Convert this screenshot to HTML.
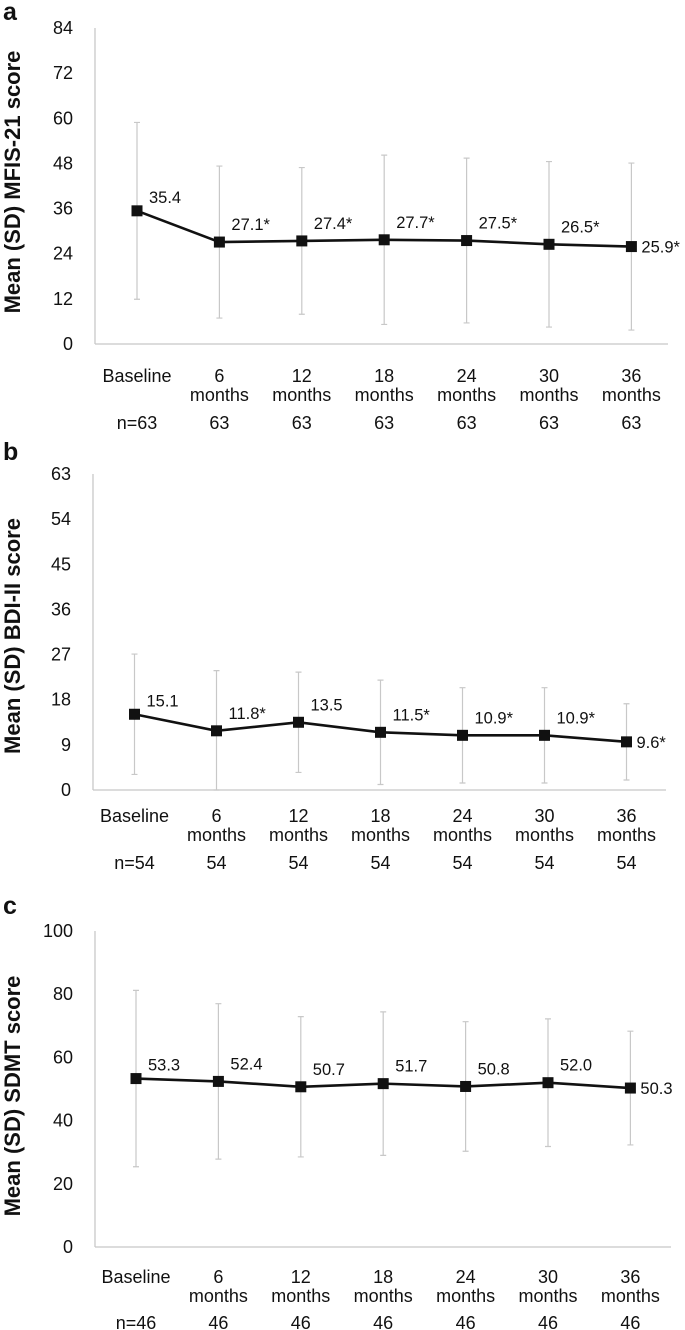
<!DOCTYPE html>
<html><head><meta charset="utf-8"><style>
html,body{margin:0;padding:0;background:#fff;}
svg{display:block;font-family:"Liberation Sans Narrow","Liberation Sans",sans-serif;}
.t{font-size:18px;fill:#111;}
.v{font-size:16.5px;fill:#111;}
.ttl{font-family:"Liberation Sans",sans-serif;font-weight:bold;font-size:22px;fill:#111;}
.pl{font-family:"Liberation Sans",sans-serif;font-weight:bold;font-size:25px;fill:#111;}
</style></head><body>
<svg id="fig" width="685" height="1330" viewBox="0 0 685 1330"></svg>
<script>
const categories = ["Baseline","6|months","12|months","18|months","24|months","30|months","36|months"];
const meansA = [35.4,27.1,27.4,27.7,27.5,26.5,25.9];
const sdA = [23.5,20.2,19.5,22.5,21.9,22.0,22.2];
const labelsA = ["35.4","27.1*","27.4*","27.7*","27.5*","26.5*","25.9*"];
const nA = ["n=63","63","63","63","63","63","63"];
const ticksA = [0,12,24,36,48,60,72,84];
const meansB = [15.1,11.8,13.5,11.5,10.9,10.9,9.6];
const sdB = [12.0,12.0,10.0,10.4,9.5,9.5,7.6];
const labelsB = ["15.1","11.8*","13.5","11.5*","10.9*","10.9*","9.6*"];
const nB = ["n=54","54","54","54","54","54","54"];
const ticksB = [0,9,18,27,36,45,54,63];
const meansC = [53.3,52.4,50.7,51.7,50.8,52.0,50.3];
const sdC = [27.9,24.6,22.2,22.7,20.5,20.2,18.0];
const labelsC = ["53.3","52.4","50.7","51.7","50.8","52.0","50.3"];
const nC = ["n=46","46","46","46","46","46","46"];
const ticksC = [0,20,40,60,80,100];

const NS="http://www.w3.org/2000/svg";
const svg=document.getElementById('fig');
function mk(tag,attrs,parent,text){const e=document.createElementNS(NS,tag);for(const k in attrs)e.setAttribute(k,attrs[k]);if(text!==undefined)e.textContent=text;(parent||svg).appendChild(e);return e;}

function panel(cfg){
  const g=mk('g',{});
  
  
  const ymax=cfg.ticks[cfg.ticks.length-1];
  const ys=v=>cfg.y0-(v/ymax)*(cfg.y0-cfg.ytop);
  const xs=i=>cfg.x0+i*cfg.dx;
  const pl=mk('text',{x:3,y:cfg.letterY,class:'pl'},g,cfg.letter);
  
  
  const ttl=mk('text',{x:0,y:0,class:'ttl','text-anchor':'middle',transform:`translate(20,${cfg.titleY}) rotate(-90)`},g,cfg.title);
  
  
  const ya=mk('line',{x1:cfg.ax,y1:cfg.ytop,x2:cfg.ax,y2:cfg.y0,stroke:'#c8c8c8','stroke-width':1.3},g);
  
  
  const xa=mk('line',{x1:cfg.ax,y1:cfg.y0,x2:cfg.xend,y2:cfg.y0,stroke:'#c8c8c8','stroke-width':1.3},g);
  
  
  cfg.ticks.forEach(t=>{
    const e=mk('text',{x:cfg.ax-22,y:ys(t)+6,class:'t','text-anchor':'end'},g,String(t));
    
    
  });
  categories.forEach((c,i)=>{
    const parts=c.split('|');
    const e=mk('text',{x:xs(i),y:cfg.catY,class:'t','text-anchor':'middle'},g,parts[0]);
    
    
    if(parts[1]){const m=mk('text',{x:xs(i),y:cfg.catY+19,class:'t','text-anchor':'middle'},g,parts[1]);
      
      }
    const n=mk('text',{x:xs(i),y:cfg.nY,class:'t','text-anchor':'middle'},g,cfg.n[i]);
    
    
  });
  cfg.means.forEach((m,i)=>{
    const x=xs(i),hi=ys(m+cfg.sd[i]),lo=ys(Math.max(0,m-cfg.sd[i]));
    const eb=mk('path',{d:`M${x},${hi}V${lo}M${x-3},${hi}H${x+3}M${x-3},${lo}H${x+3}`,stroke:'#c8c8c8','stroke-width':1.2,fill:'none'},g);
    
    
  });
  const pts=cfg.means.map((m,i)=>xs(i)+','+ys(m)).join(' ');
  const line=mk('polyline',{points:pts,fill:'none',stroke:'#111','stroke-width':2.6},g);
  
  
  cfg.means.forEach((m,i)=>{
    const x=xs(i),y=ys(m);
    const r=mk('rect',{x:x-5.5,y:y-5.5,width:11,height:11,fill:'#111'},g);
    
    
    const last=i===cfg.means.length-1;
    const lx=last?x+10:x+12, ly=last?y+6:y-(i===0?8:12);
    const t=mk('text',{x:lx,y:ly,class:'v'},g,cfg.labels[i]);
    
    
  });
}
panel({letter:'a',letterY:20,title:'Mean (SD) MFIS-21 score',titleY:182,ticks:ticksA,means:meansA,sd:sdA,labels:labelsA,n:nA,
  ax:95,ytop:28,y0:344,x0:137,dx:82.4,xend:668,catY:382,nY:429});
panel({letter:'b',letterY:460,title:'Mean (SD) BDI-II score',titleY:636,ticks:ticksB,means:meansB,sd:sdB,labels:labelsB,n:nB,
  ax:93,ytop:474,y0:790,x0:134.5,dx:82,xend:666,catY:822,nY:869});
panel({letter:'c',letterY:914,title:'Mean (SD) SDMT score',titleY:1096,ticks:ticksC,means:meansC,sd:sdC,labels:labelsC,n:nC,
  ax:95,ytop:931,y0:1247,x0:136,dx:82.4,xend:671,catY:1283,nY:1329});
</script>
</body></html>
